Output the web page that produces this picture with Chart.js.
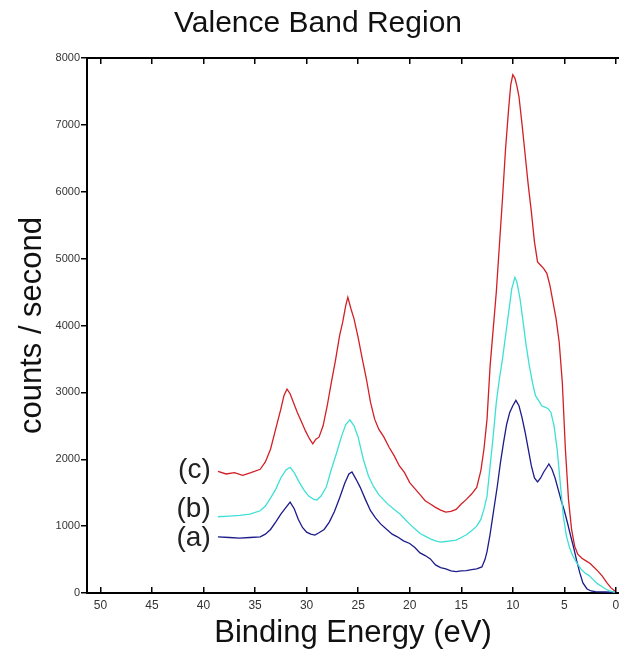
<!DOCTYPE html>
<html>
<head>
<meta charset="utf-8">
<script src="https://cdn.jsdelivr.net/npm/chart.js@4/dist/chart.umd.min.js"></script>
<style>
  html, body { margin: 0; padding: 0; background: #ffffff; }
  #wrap { width: 619px; height: 650px; }
</style>
</head>
<body>
<div id="wrap"><canvas id="c" width="619" height="650"></canvas></div>
<script>
// ---- data ----
const chartTitle = 'Valence Band Region';
const xTitle = 'Binding Energy (eV)';
const yTitle = 'counts / second';
const xTicks = [50, 45, 40, 35, 30, 25, 20, 15, 10, 5, 0];
const yTicks = [0, 1000, 2000, 3000, 4000, 5000, 6000, 7000, 8000];
const seriesLabels = ['(a)', '(b)', '(c)'];
const labelEnergy = 39.3;
const labelCounts = [820, 1250, 1840];

// (c) red
const energyC = [38.6, 37.8, 37.0, 36.2, 35.4, 34.5, 34.0, 33.5, 33.0, 32.5, 32.2, 31.9, 31.6, 31.2, 30.9, 30.5, 30.1, 29.7, 29.4, 29.1, 28.8, 28.4, 28.0, 27.6, 27.2, 26.8, 26.5, 26.2, 26.0, 25.7, 25.4, 25.0, 24.6, 24.2, 23.8, 23.4, 23.0, 22.5, 22.0, 21.5, 21.0, 20.5, 20.0, 19.5, 19.0, 18.5, 18.0, 17.5, 17.0, 16.5, 16.0, 15.5, 15.0, 14.5, 14.0, 13.5, 13.1, 12.8, 12.5, 12.2, 11.9, 11.6, 11.3, 11.0, 10.7, 10.4, 10.2, 10.0, 9.8, 9.6, 9.4, 9.1, 8.8, 8.5, 8.2, 7.9, 7.6, 7.3, 7.0, 6.7, 6.4, 6.1, 5.8, 5.5, 5.2, 4.9, 4.6, 4.3, 4.0, 3.7, 3.3, 2.9, 2.5, 2.1, 1.7, 1.3, 0.9, 0.5, 0.1];
const countsC = [1820, 1780, 1800, 1760, 1800, 1850, 1960, 2150, 2450, 2750, 2950, 3050, 2980, 2820, 2700, 2560, 2420, 2300, 2230, 2300, 2330, 2500, 2800, 3150, 3480, 3850, 4050, 4300, 4420, 4250, 4100, 3820, 3500, 3200, 2850, 2600, 2450, 2330, 2180, 2050, 1900, 1800, 1650, 1560, 1470, 1380, 1330, 1280, 1240, 1210, 1220, 1250, 1330, 1400, 1480, 1580, 1830, 2150, 2600, 3400, 3950, 4500, 5200, 5900, 6650, 7250, 7600, 7750, 7700, 7580, 7420, 7000, 6550, 6100, 5700, 5250, 4950, 4900, 4850, 4780, 4600, 4350, 4100, 3750, 3150, 2150, 1400, 950, 700, 580, 520, 480, 440, 380, 320, 250, 160, 80, 30];

// (b) cyan
const energyB = [38.6, 37.5, 36.5, 35.5, 34.5, 34.0, 33.5, 33.0, 32.5, 32.0, 31.6, 31.2, 30.8, 30.3, 29.8, 29.3, 29.0, 28.6, 28.1, 27.6, 27.1, 26.6, 26.2, 25.8, 25.4, 25.0, 24.5, 24.0, 23.5, 23.0, 22.2, 21.5, 21.0, 20.5, 20.0, 19.5, 19.0, 18.5, 18.0, 17.5, 17.0, 16.5, 16.0, 15.5, 15.0, 14.5, 14.0, 13.5, 13.1, 12.8, 12.5, 12.2, 11.9, 11.6, 11.3, 11.0, 10.7, 10.4, 10.1, 9.8, 9.6, 9.3, 9.0, 8.7, 8.4, 8.1, 7.8, 7.5, 7.2, 6.9, 6.6, 6.3, 6.0, 5.7, 5.4, 5.1, 4.8, 4.5, 4.2, 3.8, 3.4, 3.0, 2.6, 2.2, 1.8, 1.4, 1.0, 0.6, 0.1];
const countsB = [1140, 1150, 1160, 1180, 1230, 1300, 1420, 1550, 1720, 1840, 1880, 1800, 1680, 1550, 1450, 1400, 1390, 1450, 1580, 1850, 2090, 2350, 2520, 2590, 2500, 2330, 2000, 1750, 1590, 1470, 1340, 1250, 1190, 1110, 1030, 960, 890, 850, 810, 780, 760, 770, 780, 790, 830, 870, 930, 1000, 1100, 1250, 1450, 1900, 2350, 2850, 3200, 3500, 3850, 4200, 4550, 4720, 4650, 4400, 4050, 3700, 3400, 3150, 2950, 2880, 2800, 2780, 2760, 2700, 2500, 2150, 1650, 1150, 850, 680, 560, 450, 360, 300, 260, 200, 140, 100, 60, 30, 10];

// (a) dark blue
const energyA = [38.6, 37.5, 36.5, 35.5, 34.5, 34.0, 33.5, 33.0, 32.5, 32.0, 31.6, 31.2, 30.8, 30.4, 30.0, 29.6, 29.2, 28.8, 28.3, 27.8, 27.3, 26.8, 26.3, 25.9, 25.6, 25.2, 24.8, 24.3, 23.8, 23.3, 22.8, 22.3, 21.7, 21.2, 20.6, 20.0, 19.5, 19.0, 18.5, 18.0, 17.5, 17.0, 16.5, 16.0, 15.5, 15.0, 14.5, 14.0, 13.5, 13.0, 12.7, 12.5, 12.2, 11.9, 11.5, 11.2, 10.9, 10.6, 10.3, 10.0, 9.7, 9.4, 9.1, 8.8, 8.5, 8.2, 7.9, 7.6, 7.3, 7.0, 6.7, 6.5, 6.2, 5.9, 5.6, 5.3, 5.0, 4.7, 4.4, 4.1, 3.8, 3.5, 3.2, 2.8, 2.4, 2.0, 1.0, 0.1];
const countsA = [840, 830, 820, 830, 840, 880, 950, 1060, 1180, 1280, 1360, 1260, 1100, 980, 910, 880, 865, 900, 950, 1060, 1220, 1420, 1640, 1780, 1810, 1700, 1580, 1400, 1230, 1120, 1030, 960, 880, 840, 780, 740, 680, 600, 560, 510, 420, 380, 360, 330, 320, 330, 335, 350, 360, 390, 500, 620, 880, 1190, 1600, 1950, 2250, 2520, 2700, 2800, 2880, 2800, 2620, 2400, 2150, 1900, 1720, 1660, 1720, 1810, 1880, 1930, 1850, 1720, 1550, 1380, 1230, 1050, 860, 680, 480, 300, 150, 60, 30, 20, 15, 10];

// ---- chart ----
const toPts = (xs, ys) => xs.map((x, i) => ({ x: x, y: ys[i] }));
const FONT = "'Liberation Sans', Arial, sans-serif";

const textPlugin = {
  id: 'textPlugin',
  afterDraw(chart) {
    const ctx = chart.ctx;
    const xs = chart.scales.x, ys = chart.scales.y;
    ctx.save();
    ctx.fillStyle = '#111';
    ctx.font = '30px ' + FONT;
    ctx.textAlign = 'center';
    ctx.textBaseline = 'alphabetic';
    ctx.fillText(chartTitle, 318, 32);
    ctx.fillStyle = '#222';
    ctx.font = '28px ' + FONT;
    ctx.textAlign = 'right';
    ctx.textBaseline = 'middle';
    seriesLabels.forEach((t, i) => {
      ctx.fillText(t, xs.getPixelForValue(labelEnergy), ys.getPixelForValue(labelCounts[i]));
    });
    ctx.restore();
  }
};

const setXTicks = (scale) => { scale.ticks = xTicks.map(v => ({ value: v })); };
const setYTicks = (scale) => { scale.ticks = yTicks.map(v => ({ value: v })); };
const fitX = (h) => (s) => { s.height = h; s.paddingLeft = 0; s.paddingRight = 0; };

new Chart(document.getElementById('c'), {
  type: 'line',
  data: {
    datasets: [
      { label: '(c)', data: toPts(energyC, countsC), borderColor: '#d21f26', borderWidth: 1.3, pointRadius: 0, tension: 0, fill: false },
      { label: '(b)', data: toPts(energyB, countsB), borderColor: '#3ee0d6', borderWidth: 1.3, pointRadius: 0, tension: 0, fill: false },
      { label: '(a)', data: toPts(energyA, countsA), borderColor: '#1b1b8a', borderWidth: 1.3, pointRadius: 0, tension: 0, fill: false }
    ]
  },
  options: {
    responsive: false,
    animation: false,
    devicePixelRatio: 1,
    layout: { padding: 0 },
    plugins: { legend: { display: false }, title: { display: false }, tooltip: { enabled: false } },
    scales: {
      x: {
        type: 'linear', position: 'bottom', reverse: true, min: -0.3, max: 51.3,
        afterBuildTicks: setXTicks,
        afterFit: fitX(57),
        grid: { display: true, drawOnChartArea: false, drawTicks: true, tickLength: -6, color: '#000', lineWidth: 1.5 },
        border: { display: true, color: '#000', width: 2 },
        ticks: { color: '#333', font: { family: FONT, size: 12 }, padding: 11, maxRotation: 0, autoSkip: false, callback: (v) => String(v) },
        title: { display: true, text: xTitle, color: '#111', font: { family: FONT, size: 31, lineHeight: 1 }, padding: { top: 0, bottom: 1 } }
      },
      x2: {
        type: 'linear', position: 'top', reverse: true, min: -0.3, max: 51.3,
        afterBuildTicks: setXTicks,
        afterFit: fitX(58),
        grid: { display: true, drawOnChartArea: false, drawTicks: true, tickLength: -6, color: '#000', lineWidth: 1.5 },
        border: { display: true, color: '#000', width: 2 },
        ticks: { display: false }
      },
      y: {
        type: 'linear', position: 'left', min: 0, max: 8000,
        afterBuildTicks: setYTicks,
        afterFit: (s) => { s.width = 87; },
        grid: { display: true, drawOnChartArea: false, drawTicks: true, tickLength: 6, color: '#000', lineWidth: 1.5 },
        border: { display: true, color: '#000', width: 2 },
        ticks: { color: '#333', font: { family: FONT, size: 11 }, padding: 1, callback: (v) => String(v) },
        title: { display: true, text: yTitle, color: '#111', font: { family: FONT, size: 31, lineHeight: 1.2 }, padding: { top: 14, bottom: 0 } }
      }
    }
  },
  plugins: [textPlugin]
});
</script>
</body>
</html>
